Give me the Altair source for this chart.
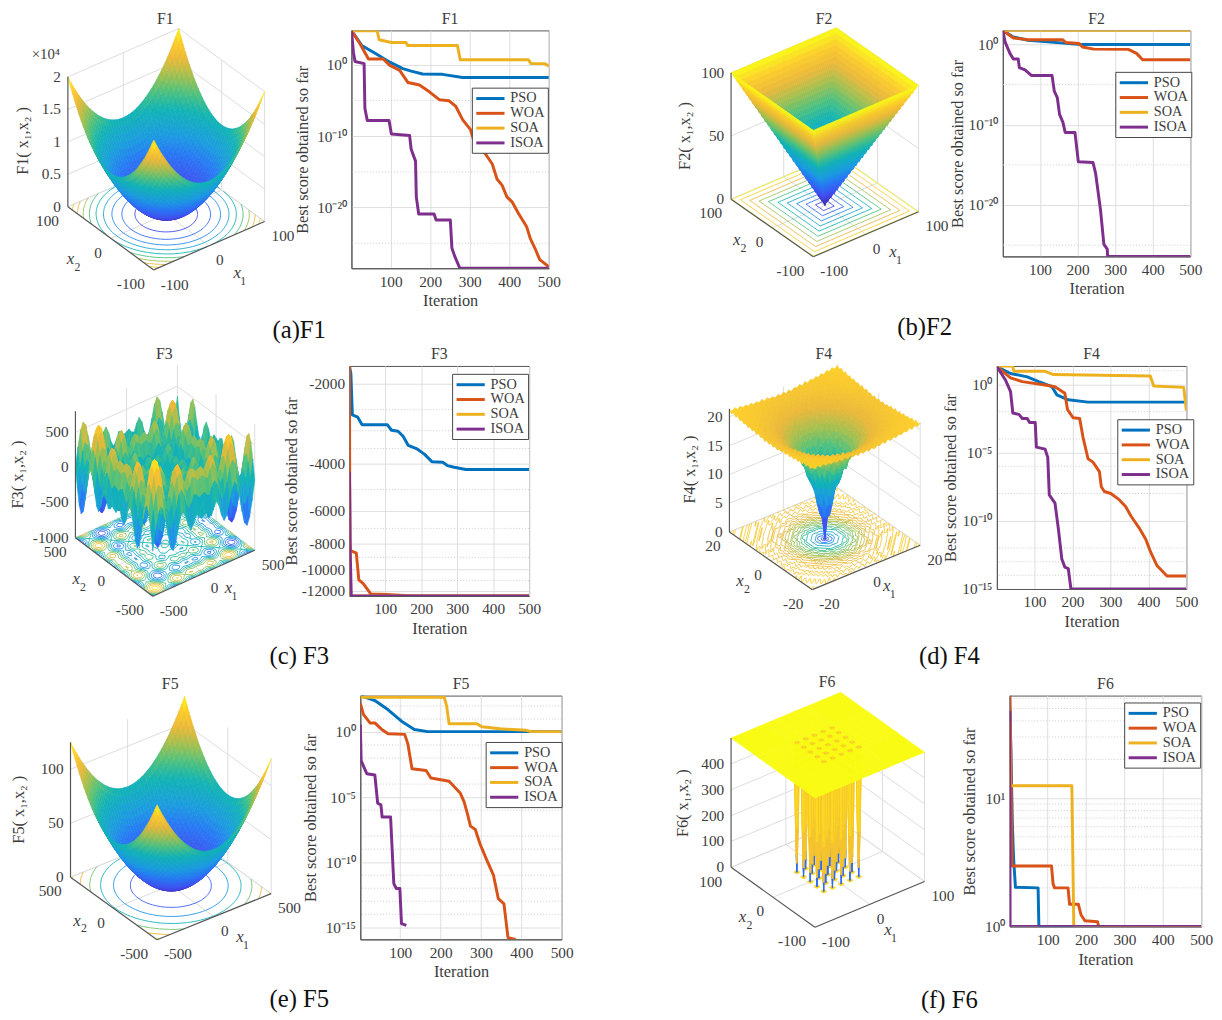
import math
import numpy as np
import pandas as pd
import altair as alt

FONT = "Liberation Serif"
TXT = "#3c3c3c"
NAMES = ["PSO", "WOA", "SOA", "ISOA"]
COLORS = ["#0072BD", "#D95319", "#EDB120", "#7E2F8E"]

# ---------- convergence curves: iteration / log10(best score) ----------
F1_PSO_X = [1, 27, 64, 98, 131, 152, 181, 231, 282, 500]
F1_PSO_E = [4.8, 2.7, 1.5, .35, -.55, -.9, -1.3, -1.35, -1.8, -1.8]
F1_WOA_X = [1, 23, 44, 81, 98, 123, 144, 173, 198, 223, 248, 265, 282, 302, 311, 340, 357, 369, 382, 394, 407, 423, 444, 453, 465, 477, 500]
F1_WOA_E = [4.8, 2.9, .8, .8, -.1, -.8, -2.5, -2.85, -3.8, -4.9, -5.05, -5.85, -7.7, -9.1, -10.7, -12.5, -13.9, -16, -16.9, -18.5, -19.2, -20.8, -22.7, -24.3, -25.7, -27.3, -28.3]
F1_SOA_X = [1, 66, 71, 102, 139, 143, 269, 276, 448, 455, 490, 500]
F1_SOA_E = [4.75, 4.75, 3.5, 3.1, 3.1, 2.7, 2.7, .7, .7, .15, .15, -.2]
F1_ISOA_X = [1, 6, 10, 33, 35, 41, 96, 102, 148, 152, 163, 165, 171, 210, 215, 251, 255, 262, 275, 500]
F1_ISOA_E = [4.8, 1.75, .45, .15, -6.1, -7.8, -7.8, -9.7, -9.9, -11.85, -13.5, -18.5, -20.9, -20.9, -21.75, -21.75, -25.7, -26.8, -28.5, -28.5]

F2_PSO_X = [1, 29, 68, 121, 209, 500]
F2_PSO_E = [1.76, .95, .53, .33, 0, 0]
F2_WOA_X = [1, 29, 68, 160, 169, 204, 213, 243, 335, 357, 373, 500]
F2_WOA_E = [1.76, .82, .6, .6, .25, .12, -.3, -.57, -.6, -1.1, -1.9, -1.9]
F2_SOA_X = [1, 500]
F2_SOA_E = [1.78, 1.78]
F2_ISOA_X = [1, 7, 20, 29, 42, 45, 60, 77, 132, 138, 146, 152, 161, 167, 193, 202, 241, 248, 261, 270, 279, 280, 500]
F2_ISOA_E = [1.76, .33, -1.1, -1.8, -1.8, -2.87, -3.15, -3.85, -3.85, -5.8, -6.6, -8.7, -9.7, -10.95, -10.95, -14.6, -14.7, -16.05, -20.6, -24.9, -25.5, -26.4, -26.4]

F3_PSO_X = [1, 5, 9, 24, 36, 106, 118, 136, 150, 164, 187, 209, 230, 260, 273, 292, 324, 500]
F3_PSO_V = [-1712, -1836, -2618, -2670, -2849, -2849, -2990, -3014, -3147, -3406, -3504, -3676, -3925, -3947, -4060, -4119, -4202, -4202]
F3_WOA_X = [1, 2, 4, 20, 27, 40, 60, 104, 175, 500]
F3_WOA_V = [-1712, -8010, -8480, -8671, -10940, -11320, -12350, -12420, -12569, -12569]
F3_SOA_X = [1, 3, 500]
F3_SOA_V = [-4296, -12569, -12569]
F3_ISOA_X = [1, 3, 6, 500]
F3_ISOA_V = [-4296, -8480, -12569, -12569]

F4_PSO_X = [1, 37, 81, 111, 146, 159, 189, 241, 500]
F4_PSO_E = [1.3, .8, .55, .2, -.17, -.77, -1.13, -1.3, -1.3]
F4_WOA_X = [1, 37, 68, 128, 154, 180, 187, 202, 219, 228, 241, 254, 271, 276, 284, 301, 323, 340, 354, 375, 393, 406, 423, 449, 500]
F4_WOA_E = [1.3, .48, .2, -.05, -.17, -.65, -1.85, -2.45, -2.5, -3.9, -5.45, -5.7, -6.4, -7.5, -7.85, -8, -8.45, -8.95, -9.65, -10.5, -11.35, -12.3, -13.3, -14.05, -14.05]
F4_SOA_X = [1, 42, 46, 128, 150, 405, 414, 493, 500]
F4_SOA_E = [1.35, 1.35, .96, .96, .72, .62, -.12, -.22, -1.92]
F4_ISOA_X = [1, 24, 37, 43, 59, 68, 81, 87, 102, 105, 128, 135, 139, 154, 163, 172, 180, 189, 196, 500]
F4_ISOA_E = [1.3, .3, -.53, -2.1, -2.2, -2.5, -2.5, -2.8, -2.8, -4.6, -4.75, -5.35, -8.1, -8.7, -10.6, -12.8, -13.4, -13.5, -15, -15]

F5_PSO_X = [1, 37, 70, 103, 135, 168, 500]
F5_PSO_E = [2.8, 2.42, 1.71, .83, .2, .03, .03]
F5_WOA_X = [1, 9, 25, 37, 54, 70, 111, 119, 129, 164, 176, 221, 249, 258, 267, 274, 286, 298, 315, 331, 343, 357, 367, 386]
F5_WOA_E = [2.2, 1.34, .7, .7, .2, -.13, -.18, -.93, -2.82, -2.95, -3.53, -3.78, -4.71, -5.34, -6.35, -7.23, -7.49, -8.62, -9.88, -11, -12.8, -13.2, -15.8, -15.93]
F5_SOA_X = [1, 209, 215, 221, 290, 302, 347, 412, 424, 500]
F5_SOA_E = [2.67, 2.67, 1.97, .63, .63, .4, .25, .13, .03, .03]
F5_ISOA_X = [1, 3, 17, 37, 44, 52, 55, 76, 84, 90, 99, 103, 115]
F5_ISOA_E = [.58, -2.2, -3.2, -3.3, -5.47, -5.6, -6.53, -6.53, -11.65, -12.02, -12.02, -14.72, -14.85]

F6_PSO_X = [1, 8, 11, 16, 75, 77, 500]
F6_PSO_V = [63, 6.2, 3.43, 2.02, 2.0, 1, 1]
F6_WOA_X = [1, 4, 7, 110, 114, 118, 153, 157, 180, 187, 197, 230, 233, 500]
F6_WOA_V = [63, 23, 2.96, 2.96, 2.15, 2.0, 2.0, 1.49, 1.49, 1.23, 1.11, 1.09, 1, 1]
F6_SOA_X = [1, 3, 163, 168, 500]
F6_SOA_V = [40, 12.5, 12.5, 1, 1]
F6_ISOA_X = [1, 2, 500]
F6_ISOA_V = [48, 1, 1]

# ---------- surface profiles along one axis (from -limit to 0, mirrored) ----------
F1_HALF = [10000, 9025, 8100, 7225, 6400, 5625, 4900, 4225, 3600, 3025, 2500, 2025, 1600, 1225, 900, 625, 400, 225, 100, 25, 0]
F2_HALF = [100, 96.7, 93.3, 90, 86.7, 83.3, 80, 76.7, 73.3, 70, 66.7, 63.3, 60, 56.7, 53.3, 50, 46.7, 43.3, 40, 36.7, 33.3, 30, 26.7, 23.3, 20, 16.7, 13.3, 10, 6.7, 3.3, 0]
F3_HALF = [-180, 95, 316, 417, 365, 184, -49, -237, -300, -210, -25, 146, 200, 107, -47, -122, -54, 53, 35, -24, 0]
F4_RING = [0, 4.0, 6.3, 8.3, 10.0, 11.5, 12.8, 14, 15, 15.8, 16.5, 17.2, 17.7, 18.2, 18.6, 19, 19.3, 19.6, 19.8, 20, 20.2, 20.4, 20.5, 20.6, 20.7, 20.8, 20.9, 21, 21]
F4_RIPPLE = [.2, -.2]
F5_HALF = [62.5, 56.4, 50.6, 45.2, 40, 35.2, 30.6, 26.4, 22.5, 18.9, 15.6, 12.7, 10, 7.7, 5.6, 3.9, 2.5, 1.4, .6, .2, 0]
F6_HOLES = [-32, -16, 0, 16, 32]
F6_OFFS = [-3.8, -1.8, -.7, 0, .7, 1.8, 3.8]
F6_DIPS = [0, .7, .93, 1, .93, .7, 0]

PARULA_POS = [0, .12, .25, .35, .5, .6, .7, .8, .9, 1]
PARULA_HEX = ["#3e26a8", "#4150f0", "#2879f5", "#1c9ce0", "#12b4b4", "#4cc180", "#a0c050", "#eab83a", "#fccb2a", "#f9fb15"]
_rgb = np.array([[int(h[i:i + 2], 16) for i in (1, 3, 5)] for h in PARULA_HEX], float)


def parula(f):
    f = min(max(f, 0), 1)
    return "#%02x%02x%02x" % tuple(int(round(np.interp(f, PARULA_POS, _rgb[:, c]))) for c in range(3))


def mirror(h):
    return list(h) + list(h[-2::-1])


def grid_uniform(n):
    return [i / (n - 1) for i in range(n)]


def contour_segments(z, us, vs, levels):
    segs = []
    for lev0 in levels:
        lev = lev0 * 1.0017 + .0137
        for i in range(len(us) - 1):
            for j in range(len(vs) - 1):
                c = [(us[i], vs[j], z[i][j]), (us[i + 1], vs[j], z[i + 1][j]),
                     (us[i + 1], vs[j + 1], z[i + 1][j + 1]), (us[i], vs[j + 1], z[i][j + 1])]
                pts = []
                for a in range(4):
                    p, q = c[a], c[(a + 1) % 4]
                    if (p[2] - lev) * (q[2] - lev) < 0:
                        t = (lev - p[2]) / (q[2] - p[2])
                        pts.append((p[0] + t * (q[0] - p[0]), p[1] + t * (q[1] - p[1])))
                for k in range(0, len(pts) - 1, 2):
                    segs.append((pts[k], pts[k + 1], lev0))
    return segs


def surface_panel(cfg, X0, Y0, W, H):
    B, R, L = cfg["B"], cfg["R"], cfg["L"]
    zmin, zmax, k = cfg["zmin"], cfg["zmax"], cfg["k"]
    us, vs, z = cfg["us"], cfg["vs"], cfg["z"]
    cmin, cmax = cfg["crange"]
    steps = cfg.get("steps")

    def shade(v):
        if steps:
            for lim, f in steps:
                if v >= lim:
                    return parula(f)
        return parula((v - cmin) / (cmax - cmin))

    def proj(u, v, h):
        return (B[0] + u * (R[0] - B[0]) + v * (L[0] - B[0]),
                B[1] + u * (R[1] - B[1]) + v * (L[1] - B[1]) - (h - zmin) * k)

    sx = alt.Scale(domain=[X0, X0 + W], nice=False, zero=False)
    sy = alt.Scale(domain=[Y0, Y0 + H], nice=False, zero=False, reverse=True)
    ex = alt.X("x:Q", scale=sx, axis=None)
    ey = alt.Y("y:Q", scale=sy, axis=None)

    def rules(items, color, width):
        rows = [{"x": a[0], "y": a[1], "x2": b[0], "y2": b[1]} for a, b in items]
        return alt.Chart(pd.DataFrame(rows)).mark_rule(color=color, strokeWidth=width).encode(
            x=ex, y=ey, x2="x2:Q", y2="y2:Q")

    walls = []
    for zt in cfg["zticks"]:
        walls.append((proj(0, 1, zt), proj(1, 1, zt)))
        walls.append((proj(1, 1, zt), proj(1, 0, zt)))
    for (u, v) in [(1, 1), (1, 0), (.5, 1), (1, .5)]:
        walls.append((proj(u, v, zmin), proj(u, v, zmax)))
    walls.append((proj(.5, 0, zmin), proj(.5, 1, zmin)))
    walls.append((proj(0, .5, zmin), proj(1, .5, zmin)))
    walls.append((proj(0, 1, zmin), proj(1, 1, zmin)))
    walls.append((proj(1, 0, zmin), proj(1, 1, zmin)))
    layers = [rules(walls, "#dcdcdc", 1)]

    rows = []
    for (p, q, lev) in contour_segments(z, us, vs, cfg["levels"]):
        a = proj(p[0], p[1], zmin)
        b = proj(q[0], q[1], zmin)
        rows.append({"x": round(a[0], 1), "y": round(a[1], 1), "x2": round(b[0], 1), "y2": round(b[1], 1),
                     "c": shade(lev)})
    layers.append(alt.Chart(pd.DataFrame(rows)).mark_rule(strokeWidth=.9).encode(
        x=ex, y=ey, x2="x2:Q", y2="y2:Q", color=alt.Color("c:N", scale=None)))

    rows = []
    pid = 0
    for i in range(len(us) - 2, -1, -1):
        for j in range(len(vs) - 2, -1, -1):
            corners = [(i, j), (i + 1, j), (i + 1, j + 1), (i, j + 1)]
            mean = sum(z[a][b] for a, b in corners) / 4
            c = shade(mean)
            for n, (a, b) in enumerate(corners):
                x, y = proj(us[a], vs[b], z[a][b])
                rows.append({"x": round(x, 1), "y": round(y, 1), "p": pid, "n": n, "c": c})
            pid += 1
    layers.append(alt.Chart(pd.DataFrame(rows)).mark_line(interpolate="linear-closed", strokeWidth=.6).encode(
        x=ex, y=ey, detail="p:N", order=alt.Order("n:Q"),
        fill=alt.Fill("c:N", scale=None), stroke=alt.Stroke("c:N", scale=None)))

    front = [(proj(0, 1, zmin), proj(0, 0, zmin)), (proj(0, 0, zmin), proj(1, 0, zmin)),
             (proj(0, 1, zmin), proj(0, 1, zmax))]
    layers.append(rules(front, "#555555", 1.2))

    lo, mid, hi = cfg["xticks"]

    def text_layer(rows, size=15.5, align="center", italic=False, angle=None, color=TXT):
        kw = {"angle": angle} if angle is not None else {}
        if italic:
            kw["fontStyle"] = "italic"
        return alt.Chart(pd.DataFrame(rows)).mark_text(font=FONT, fontSize=size, align=align, baseline="middle",
                                                       color=color, **kw).encode(x=ex, y=ey, text="t:N")

    right = []
    for zt, lab in zip(cfg["zticks"], cfg["zlabels"]):
        x, y = proj(0, 1, zt)
        right.append({"x": x - 7, "y": y, "t": lab})
    for v, lab in zip((1, .5, 0), (hi, mid, lo)):
        x, y = proj(0, v, zmin)
        right.append({"x": x - 9, "y": y + 14.5, "t": lab})
    layers.append(text_layer(right, align="right"))
    left = []
    for u, lab in zip((0, .5, 1), (lo, mid, hi)):
        x, y = proj(u, 0, zmin)
        left.append({"x": x + 7, "y": y + 15, "t": lab})
    layers.append(text_layer(left, align="left"))

    layers.append(text_layer([{"x": cfg["xlab1"][0], "y": cfg["xlab1"][1], "t": "x"},
                              {"x": cfg["xlab2"][0], "y": cfg["xlab2"][1], "t": "x"}], size=17, italic=True))
    layers.append(text_layer([{"x": cfg["xlab1"][0] + 6, "y": cfg["xlab1"][1] + 8, "t": "1"},
                              {"x": cfg["xlab2"][0] + 7, "y": cfg["xlab2"][1] + 8, "t": "2"}], size=12))
    layers.append(text_layer([{"x": cfg["zlab"][0], "y": cfg["zlab"][1], "t": cfg["name"] + "( x\u2081,x\u2082 )"}],
                             size=16.5, angle=270))
    layers.append(text_layer([{"x": cfg["title"][0], "y": cfg["title"][1], "t": cfg["name"]}], size=16))
    layers.append(text_layer([{"x": cfg["cap"][0], "y": cfg["cap"][1], "t": cfg["captext"]}], size=25,
                             align="left", color="#111111"))
    if cfg.get("mult"):
        layers.append(text_layer([{"x": cfg["mult"][0], "y": cfg["mult"][1], "t": "\u00d710\u2074"}], size=15))
    return alt.layer(*layers).properties(width=W, height=H)


def label_expr(vals, labs):
    e = "'%s'" % labs[-1]
    for i in range(len(vals) - 2, -1, -1):
        mid = math.sqrt(vals[i] * vals[i + 1])
        if vals[i] < 0:
            mid = -mid
        e = "datum.value > %r ? '%s' : %s" % (mid, labs[i], e)
    return e


def line_panel(cfg):
    l, t, r, b = cfg["frame"]
    w, h = r - l, b - t
    rows = []
    for name, xs, vs in cfg["series"]:
        for s, (x, v) in enumerate(zip(xs, vs)):
            rows.append({"iter": x, "v": v, "series": name, "s": s})
    ysc = alt.Scale(type="log", domain=cfg["domain"], nice=False, zero=False)
    xsc = alt.Scale(domain=[1, 500], nice=False, zero=False)
    yaxis = alt.Axis(values=cfg["vals"], title="Best score obtained so far", titleFont=FONT, titleFontSize=16.5,
                     titleFontWeight="normal", titleColor=TXT, titleX=cfg["tx"] + 6, labelFont=FONT, labelFontSize=15.5,
                     labelColor=TXT, grid=True, gridColor="#dddddd", ticks=False, domainColor="#555555",
                     labelPadding=5, labelExpr=label_expr(cfg["vals"], cfg["labels"]))
    xaxis = alt.Axis(values=[100, 200, 300, 400, 500], title="Iteration", titleFont=FONT, titleFontSize=16.5,
                     titleFontWeight="normal", titleColor=TXT, titleY=25, labelFont=FONT, labelFontSize=15.5,
                     labelColor=TXT, grid=True, gridColor="#dddddd", ticks=False, domainColor="#555555",
                     labelPadding=6, format="d", labelFlush=False)
    ty = alt.Y("v:Q", scale=ysc, axis=yaxis)
    minors = alt.Chart(pd.DataFrame({"v": cfg["minors"]})).mark_rule(
        color="#cccccc", strokeDash=[1, 2], strokeWidth=1).encode(y=ty)
    lx, ly = cfg["legend"]
    curves = alt.Chart(pd.DataFrame(rows)).mark_line(strokeWidth=3, clip=True, strokeJoin="round").encode(
        x=alt.X("iter:Q", scale=xsc, axis=xaxis),
        y=ty,
        order=alt.Order("s:Q"),
        color=alt.Color("series:N", scale=alt.Scale(domain=NAMES, range=COLORS),
                        legend=alt.Legend(orient="none", legendX=lx - l, legendY=ly - t, title=None,
                                          symbolType="M-1,0L3.4,0", symbolSize=169, symbolStrokeWidth=3,
                                          labelFont=FONT, labelFontSize=14.5, labelColor=TXT,
                                          fillColor="white", strokeColor="#444444", padding=3,
                                          rowPadding=0, labelOffset=20)))
    title = alt.TitleParams(cfg["name"], font=FONT, fontSize=16, fontWeight="normal", color=TXT, offset=4)
    return alt.layer(minors, curves).properties(width=w, height=h, title=title,
                                                view=alt.ViewBackground(stroke="#555555", strokeWidth=1))


def spacer(w, h):
    return alt.Chart(pd.DataFrame({"a": [0]})).mark_text(text="").encode(
        x=alt.value(0), y=alt.value(0)).properties(width=w, height=h)


def zo(ox, oy, zx, zy):
    return (ox + zx / 3, oy + zy / 3)


# ---------- surfaces ----------
n41 = grid_uniform(41)
n61 = grid_uniform(61)
p1 = mirror(F1_HALF)
z1 = [[p1[i] + p1[j] for j in range(41)] for i in range(41)]
p2 = mirror(F2_HALF)
z2 = [[max(p2[i], p2[j]) for j in range(61)] for i in range(61)]
p3 = list(F3_HALF) + [-v for v in F3_HALF[-2::-1]]
z3 = [[p3[i] + p3[j] for j in range(41)] for i in range(41)]
z4 = [[F4_RING[int(round(math.hypot(i - 20, j - 20)))] + F4_RIPPLE[(i + j) % 2] * (i != 20 or j != 20)
       for j in range(41)] for i in range(41)]
p5 = mirror(F5_HALF)
z5 = [[p5[i] + p5[j] for j in range(41)] for i in range(41)]
c6, d6 = [-100, -40], [0, 0]
for hole in F6_HOLES:
    for o, d in zip(F6_OFFS, F6_DIPS):
        c6.append(hole + o)
        d6.append(d)
c6 += [40, 100]
d6 += [0, 0]
u6 = [(c + 100) / 200 for c in c6]
z6 = [[500 * (1 - a * b) for b in d6] for a in d6]

S1 = dict(name="F1", captext="(a)F1", B=zo(0, 0, 458, 812), R=zo(0, 0, 795, 665), L=zo(0, 0, 197, 620),
          zmin=0, zmax=20000, k=65.8 / 10000, us=n41, vs=n41, z=z1, crange=(0, 20000),
          levels=[2000, 4000, 6000, 8000, 10000, 12000, 14000, 16000, 18000],
          zticks=[0, 5000, 10000, 15000, 20000], zlabels=["0", "0.5", "1", "1.5", "2"],
          xticks=("-100", "0", "100"), xlab1=zo(0, 0, 712, 822), xlab2=zo(0, 0, 205, 778), zlab=zo(0, 0, 60, 420),
          title=zo(0, 0, 493, 48), cap=(273, 332), mult=zo(0, 0, 130, 155))
S2 = dict(name="F2", captext="(b)F2", B=zo(660, 0, 465, 772), R=zo(660, 0, 785, 635), L=zo(660, 0, 215, 597),
          zmin=0, zmax=100, k=1.28, us=n61, vs=n61, z=z2, crange=(0, 100),
          levels=[10, 20, 30, 40, 50, 60, 70, 80, 90, 99],
          zticks=[0, 50, 100], zlabels=["0", "50", "100"],
          xticks=("-100", "0", "100"), xlab1=zo(660, 0, 707, 757), xlab2=zo(660, 0, 232, 722), zlab=zo(660, 0, 75, 405),
          title=zo(660, 0, 498, 48), cap=(900, 329))
S3 = dict(name="F3", captext="(c) F3", B=zo(0, 340, 455, 775), R=zo(0, 340, 765, 635), L=zo(0, 340, 220, 597),
          zmin=-1000, zmax=800, k=.0712, us=n41, vs=n41, z=z3, crange=(-840, 840),
          levels=[-750, -600, -450, -300, -150, 0, 150, 300, 450, 600, 750],
          zticks=[-1000, -500, 0, 500], zlabels=["-1000", "-500", "0", "500"],
          xticks=("-500", "0", "500"), xlab1=zo(0, 340, 685, 750), xlab2=zo(0, 340, 222, 722), zlab=zo(0, 340, 46, 405),
          title=zo(0, 340, 490, 40), cap=(270, 659))
S4 = dict(name="F4", captext="(d) F4", B=zo(660, 340, 462, 755), R=zo(660, 340, 790, 620), L=zo(660, 340, 210, 580),
          zmin=0, zmax=21.4, k=5.84, us=n41, vs=n41, z=z4, crange=(0, 23),
          levels=[2, 4, 6, 8, 10, 12, 13, 14, 15, 15.5, 16, 16.5, 17, 17.4, 17.8, 18.2, 18.6, 19, 19.4, 19.8, 20.2, 20.6, 21],
          zticks=[0, 5, 10, 15, 20], zlabels=["0", "5", "10", "15", "20"],
          xticks=("-20", "0", "20"), xlab1=zo(660, 340, 688, 745), xlab2=zo(660, 340, 242, 728), zlab=zo(660, 340, 90, 390),
          title=zo(660, 340, 497, 38), cap=(922, 659))
S5 = dict(name="F5", captext="(e) F5", B=zo(0, 670, 468, 820), R=zo(0, 670, 815, 680), L=zo(0, 670, 205, 630),
          zmin=0, zmax=125, k=1.094, us=n41, vs=n41, z=z5, crange=(0, 125),
          levels=[20, 40, 60, 80, 100, 120],
          zticks=[0, 50, 100], zlabels=["0", "50", "100"],
          xticks=("-500", "0", "500"), xlab1=zo(0, 670, 720, 812), xlab2=zo(0, 670, 225, 762), zlab=zo(0, 670, 50, 425),
          title=zo(0, 670, 508, 42), cap=(270, 1004))
S6 = dict(name="F6", captext="(f) F6", B=zo(660, 670, 470, 782), R=zo(660, 670, 803, 643), L=zo(660, 670, 215, 600),
          zmin=0, zmax=500, k=.262, us=u6, vs=u6, z=z6, crange=(0, 500),
          steps=[(498, 1.0), (350, .93), (60, .86), (0, .2)],
          levels=[10, 30, 50, 100, 250, 400, 480],
          zticks=[0, 100, 200, 300, 400], zlabels=["0", "100", "200", "300", "400"],
          xticks=("-100", "0", "100"), xlab1=zo(660, 670, 692, 790), xlab2=zo(660, 670, 250, 750), zlab=zo(660, 670, 70, 405),
          title=zo(660, 670, 507, 38), cap=(924, 1005))


def pow10(es):
    return [10 ** e for e in es]


def sup(s):
    return "10" + s.translate(str.maketrans("-0123456789", "\u207b\u2070\u00b9\u00b2\u00b3\u2074\u2075\u2076\u2077\u2078\u2079"))


L1 = dict(name="F1", frame=(351, 28, 551, 269), domain=[10 ** -28.5, 10 ** 4.8], tx=-48, legend=(473, 86),
          vals=[1, 1e-10, 1e-20], labels=[sup("0"), sup("-10"), sup("-20")], minors=[1e-5, 1e-15, 1e-25],
          series=[("PSO", F1_PSO_X, pow10(F1_PSO_E)), ("WOA", F1_WOA_X, pow10(F1_WOA_E)),
                  ("SOA", F1_SOA_X, pow10(F1_SOA_E)), ("ISOA", F1_ISOA_X, pow10(F1_ISOA_E))])
L2 = dict(name="F2", frame=(1004, 28, 1194, 257), domain=[10 ** -26.4, 10 ** 1.76], tx=-44, legend=(1118, 70),
          vals=[1, 1e-10, 1e-20], labels=[sup("0"), sup("-10"), sup("-20")], minors=[1e-5, 1e-15, 1e-25],
          series=[("PSO", F2_PSO_X, pow10(F2_PSO_E)), ("WOA", F2_WOA_X, pow10(F2_WOA_E)),
                  ("SOA", F2_SOA_X, pow10(F2_SOA_E)), ("ISOA", F2_ISOA_X, pow10(F2_ISOA_E))])
L3 = dict(name="F3", frame=(349, 365, 531, 598), domain=[-12569, -1712], tx=-57, legend=(453, 373),
          vals=[-2000, -4000, -6000, -8000, -10000, -12000],
          labels=["-2000", "-4000", "-6000", "-8000", "-10000", "-12000"],
          minors=[-2500, -3000, -3500, -5000, -7000, -9000, -11000],
          series=[("PSO", F3_PSO_X, F3_PSO_V), ("WOA", F3_WOA_X, F3_WOA_V),
                  ("SOA", F3_SOA_X, F3_SOA_V), ("ISOA", F3_ISOA_X, F3_ISOA_V)])
L4 = dict(name="F4", frame=(998, 365, 1190, 591), domain=[1e-15, 10 ** 1.35], tx=-45, legend=(1120, 419),
          vals=[1, 1e-5, 1e-10, 1e-15], labels=[sup("0"), sup("-5"), sup("-10"), sup("-15")],
          minors=[10, 1e-2, 1e-4, 1e-6, 1e-8, 1e-12, 1e-13, 1e-14],
          series=[("PSO", F4_PSO_X, pow10(F4_PSO_E)), ("WOA", F4_WOA_X, pow10(F4_WOA_E)),
                  ("SOA", F4_SOA_X, pow10(F4_SOA_E)), ("ISOA", F4_ISOA_X, pow10(F4_ISOA_E))])
L5 = dict(name="F5", frame=(360, 696, 564, 943), domain=[10 ** -15.93, 10 ** 2.8], tx=-48, legend=(487, 743),
          vals=[1, 1e-5, 1e-10, 1e-15], labels=[sup("0"), sup("-5"), sup("-10"), sup("-15")],
          minors=[100, 10, 1e-1, 1e-2, 1e-4, 1e-6, 1e-8, 1e-9, 1e-11, 1e-12, 1e-13, 1e-14],
          series=[("PSO", F5_PSO_X, pow10(F5_PSO_E)), ("WOA", F5_WOA_X, pow10(F5_WOA_E)),
                  ("SOA", F5_SOA_X, pow10(F5_SOA_E)), ("ISOA", F5_ISOA_X, pow10(F5_ISOA_E))])
L6 = dict(name="F6", frame=(1011, 696, 1205, 930), domain=[1, 63], tx=-39, legend=(1127, 703),
          vals=[10, 1], labels=[sup("1"), sup("0")],
          minors=[2, 3, 4, 5, 6, 7, 8, 9, 20, 30, 40, 50, 60],
          series=[("PSO", F6_PSO_X, F6_PSO_V), ("WOA", F6_WOA_X, F6_WOA_V),
                  ("SOA", F6_SOA_X, F6_SOA_V), ("ISOA", F6_ISOA_X, F6_ISOA_V)])

ROWS = [(S1, L1, S2, L2), (S3, L3, S4, L4), (S5, L5, S6, L6)]
ROW_GAPS = [9, 340, 334]
INDEP = dict(color="independent", fill="independent", stroke="independent")

stack = []
for gap, (sa, la, sb, lb) in zip(ROW_GAPS, ROWS):
    top = la["frame"][1]
    stack.append(spacer(1, gap))
    la_l, _, la_r, la_b = la["frame"]
    lb_l, _, lb_r, lb_b = lb["frame"]
    H = max(la_b, lb_b) - top
    row = alt.hconcat(surface_panel(sa, 8, top, la_l - 8 + 2, H),
                      line_panel(la),
                      surface_panel(sb, la_r - 4, top, lb_l - la_r + 7, H),
                      line_panel(lb),
                      spacing=0, bounds="flush").resolve_scale(**INDEP)
    stack.append(row)

chart = alt.vconcat(*stack, spacing=0, bounds="flush").resolve_scale(**INDEP).configure_view(
    stroke=None).properties(padding={"top": -5, "left": 2, "right": 0, "bottom": 0}, background="white")

chart.save("out.html", embed_options={"renderer": "svg", "actions": False})
